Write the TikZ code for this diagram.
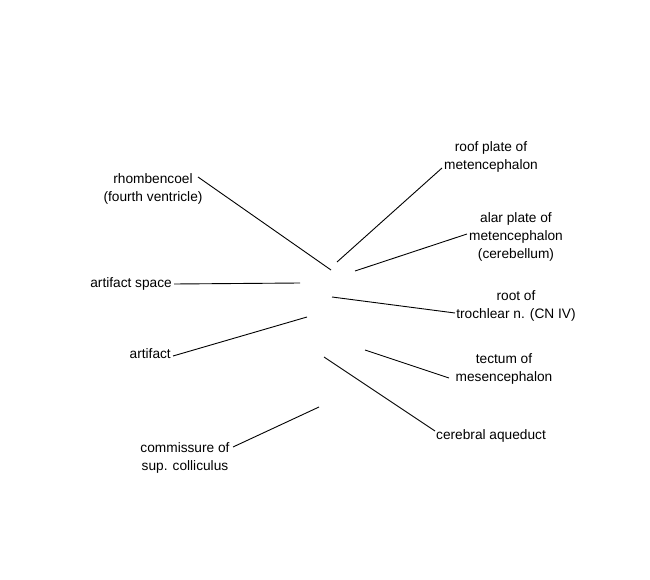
\documentclass[tikz,border=0pt]{standalone}
\usepackage{fontspec}
\setmainfont{Liberation Sans}
\begin{document}
\begin{tikzpicture}[x=1pt,y=-1pt,
  lbl/.style={inner sep=0pt, align=center, font=\fontsize{13.7}{18}\selectfont},
  lead/.style={draw=black, line width=0.9pt}]
\useasboundingbox[fill=white] (0,0) rectangle (650,580);
% labels
\node[lbl] (rhomb) at (153,189) {rhombencoel\\(fourth ventricle)};
\node[lbl, anchor=east] (space) at (172,284) {artifact space};
\node[lbl, anchor=east] (artifact) at (171,354) {artifact};
\node[lbl] (comm) at (185,458) {commissure of\\sup. colliculus};
\node[lbl] (roof) at (491,157) {roof plate of\\metencephalon};
\node[lbl] (alar) at (516,237) {alar plate of\\metencephalon\\(cerebellum)};
\node[lbl] (root) at (516,306) {root of\\trochlear n. (CN IV)};
\node[lbl] (tectum) at (504,369) {tectum of\\mesencephalon};
\node[lbl, anchor=west] (aqueduct) at (436,436) {cerebral aqueduct};
% leader start points
\coordinate (rhombS) at (198,177);
\coordinate (roofS) at (442,168);
\coordinate (alarS) at (467,234);
\coordinate (rootS) at (455,313);
\coordinate (tectumS) at (449,378);
\coordinate (aqueductS) at (435,431);
\coordinate (commS) at (233,447);
% leader tips
\coordinate (rhombT) at (331,270);
\coordinate (spaceT) at (300,283);
\coordinate (artifactT) at (307,317);
\coordinate (commT) at (319,407);
\coordinate (roofT) at (337,262);
\coordinate (alarT) at (355,271);
\coordinate (rootT) at (332,297);
\coordinate (tectumT) at (365,350);
\coordinate (aqueductT) at (324,357);
% leaders
\draw[lead] (rhombS) -- (rhombT);
\draw[lead] ([xshift=2pt]space.east) -- (spaceT);
\draw[lead] ([xshift=2pt,yshift=-2pt]artifact.east) -- (artifactT);
\draw[lead] (commS) -- (commT);
\draw[lead] (roofS) -- (roofT);
\draw[lead] (alarS) -- (alarT);
\draw[lead] (rootS) -- (rootT);
\draw[lead] (tectumS) -- (tectumT);
\draw[lead] (aqueductS) -- (aqueductT);
\end{tikzpicture}
\end{document}
